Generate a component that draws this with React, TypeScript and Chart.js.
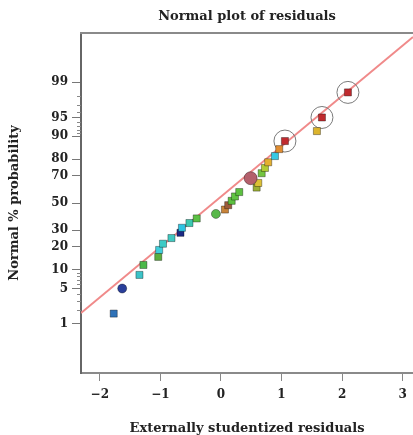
import React, { useEffect, useRef } from 'react';
import { Chart, registerables, LinearScale } from 'chart.js';

// ---- data ----
const residuals = [
  -1.77, -1.63, -1.345, -1.28, -1.035, -1.02, -0.957, -0.817, -0.668, -0.644,
  -0.52, -0.40, -0.083, 0.066, 0.12, 0.177, 0.231, 0.302, 0.589, 0.616,
  0.49, 0.672, 0.726, 0.78, 0.891, 0.962, 1.056, 1.584, 1.667, 2.096,
];
const probabilities = [
  1.67, 5, 8.33, 11.67, 15, 18.33, 21.67, 25, 28.33, 31.67,
  35, 38.33, 41.67, 45, 48.33, 51.67, 55, 58.33, 61.67, 65,
  68.33, 71.67, 75, 78.33, 81.67, 85, 88.33, 91.67, 95, 98.33,
];
const circledRuns = [26, 28, 29];
const refLineX = [-2.31, 3.17];
const refLineP = [1.72, 99.93];
const yTickLabels = [1, 5, 10, 20, 30, 50, 70, 80, 90, 95, 99];
const yMinorTicks = [2, 3, 4, 6, 7, 8, 9, 91, 92, 93, 94, 96, 97, 98];
const xTicks = [-2, -1, 0, 1, 2, 3];

// ---- styles ----
const pointColors = [
  '#2f72b8', '#2a3f9a', '#3cc3c8', '#4cb84a', '#5aad3c', '#3fcfdc', '#3ccbc6', '#40c8c0', '#1c2a84', '#2ec4e2',
  '#3cc8b0', '#5cc044', '#58b84a', '#c8843a', '#9c5c3c', '#5cc040', '#60c444', '#5cc040', '#9cb034', '#dcc034',
  '#b4606c', '#74c440', '#b4cc34', '#e4b030', '#38c8e4', '#e08c30', '#c02a2e', '#dcb42c', '#c02a2e', '#c02a2e',
];
const pointShapes = residuals.map((_, i) => (i === 1 || i === 12 || i === 20 ? 'circle' : 'rect'));
const pointSizes = residuals.map((_, i) => (i === 20 ? 6.5 : i === 1 || i === 12 ? 4.5 : 5));

const SERIF = "'DejaVu Serif', 'Liberation Serif', serif";

function probit(p: number): number {
  const a = [-3.969683028665376e1, 2.209460984245205e2, -2.759285104469687e2, 1.38357751867269e2, -3.066479806614716e1, 2.506628277459239];
  const b = [-5.447609879822406e1, 1.615858368580409e2, -1.556989798598866e2, 6.680131188771972e1, -1.328068155288572e1];
  const c = [-7.784894002430293e-3, -3.223964580411365e-1, -2.400758277161838, -2.549732539343734, 4.374664141464968, 2.938163982698783];
  const d = [7.784695709041462e-3, 3.224671290700398e-1, 2.445134137142996, 3.754408661907416];
  const plow = 0.02425;
  if (p <= 0) return -Infinity;
  if (p >= 1) return Infinity;
  if (p < plow) {
    const q = Math.sqrt(-2 * Math.log(p));
    return (((((c[0] * q + c[1]) * q + c[2]) * q + c[3]) * q + c[4]) * q + c[5]) / ((((d[0] * q + d[1]) * q + d[2]) * q + d[3]) * q + 1);
  }
  if (p <= 1 - plow) {
    const q = p - 0.5;
    const r = q * q;
    return ((((((a[0] * r + a[1]) * r + a[2]) * r + a[3]) * r + a[4]) * r + a[5]) * q) / (((((b[0] * r + b[1]) * r + b[2]) * r + b[3]) * r + b[4]) * r + 1);
  }
  const q = Math.sqrt(-2 * Math.log(1 - p));
  return -(((((c[0] * q + c[1]) * q + c[2]) * q + c[3]) * q + c[4]) * q + c[5]) / ((((d[0] * q + d[1]) * q + d[2]) * q + d[3]) * q + 1);
}

function normCdf(z: number): number {
  const t = 1 / (1 + 0.3275911 * Math.abs(z) / Math.SQRT2);
  const y = 1 - (((((1.061405429 * t - 1.453152027) * t) + 1.421413741) * t - 0.284496736) * t + 0.254829592) * t * Math.exp(-(z * z) / 2);
  return z >= 0 ? 0.5 * (1 + y) : 0.5 * (1 - y);
}

class ProbitScale extends (LinearScale as any) {
  static id = 'probit';
  static defaults = (LinearScale as any).defaults;
  _zmin = 0;
  _zmax = 1;
  determineDataLimits() {
    (this as any).min = (this as any).options.min;
    (this as any).max = (this as any).options.max;
  }
  buildTicks() {
    return yTickLabels.map((v) => ({ value: v }));
  }
  configure() {
    super.configure();
    this._zmin = probit((this as any).min / 100);
    this._zmax = probit((this as any).max / 100);
  }
  getPixelForValue(value: number) {
    if (value === null || value === undefined || isNaN(value)) return NaN;
    const z = probit(value / 100);
    return (this as any).getPixelForDecimal((z - this._zmin) / (this._zmax - this._zmin));
  }
  getValueForPixel(pixel: number) {
    const dec = (this as any).getDecimalForPixel(pixel);
    return normCdf(this._zmin + dec * (this._zmax - this._zmin)) * 100;
  }
}

Chart.register(...registerables, ProbitScale as any);

const framePlugin = {
  id: 'frame',
  afterDraw(chart: any) {
    const { ctx, chartArea, scales } = chart;
    const { left, top, right } = chartArea;
    ctx.save();
    ctx.strokeStyle = '#8a8a8a';
    ctx.lineWidth = 2;
    ctx.beginPath();
    ctx.moveTo(left - 1, top);
    ctx.lineTo(right, top);
    ctx.stroke();
    ctx.strokeStyle = '#888';
    ctx.lineWidth = 1;
    ctx.beginPath();
    yMinorTicks.forEach((v) => {
      const py = Math.round(scales.y.getPixelForValue(v)) + 0.5;
      ctx.moveTo(left - 4, py);
      ctx.lineTo(left, py);
    });
    ctx.stroke();
    ctx.restore();
  },
};

export default function App() {
  const ref = useRef<HTMLCanvasElement>(null);
  useEffect(() => {
    document.body.style.margin = '0';
    const canvas = ref.current!;
    const chart = new Chart(canvas, {
      type: 'scatter',
      data: {
        datasets: [
          {
            label: 'Residuals',
            data: residuals.map((x, i) => ({ x, y: probabilities[i] })),
            pointStyle: pointShapes as any,
            pointRadius: pointSizes,
            backgroundColor: pointColors,
            borderColor: 'rgba(0,0,0,0.35)',
            borderWidth: 1,
          },
          {
            label: 'Flagged',
            data: circledRuns.map((i) => ({ x: residuals[i], y: probabilities[i] })),
            pointStyle: 'circle',
            pointRadius: 11,
            backgroundColor: 'rgba(0,0,0,0)',
            borderColor: '#7a7a7a',
            borderWidth: 1,
          },
          {
            label: 'Normal line',
            type: 'line',
            data: refLineX.map((x, i) => ({ x, y: refLineP[i] })),
            borderColor: '#f08a8a',
            borderWidth: 2,
            pointRadius: 0,
            showLine: true,
          } as any,
        ],
      },
      options: {
        responsive: false,
        animation: false,
        devicePixelRatio: 1,
        layout: { padding: 0, autoPadding: false },
        events: [],
        plugins: {
          legend: { display: false },
          tooltip: { enabled: false },
          title: {
            display: true,
            text: 'Normal plot of residuals',
            fullSize: false,
            color: '#222',
            font: { family: SERIF, size: 13, weight: 'bold', lineHeight: 1.2 },
            padding: { top: 9, bottom: 8.4 },
          },
        },
        scales: {
          x: {
            type: 'linear',
            min: -2.31,
            max: 3.17,
            afterBuildTicks: (s: any) => {
              s.ticks = xTicks.map((v) => ({ value: v }));
            },
            afterFit: (s: any) => {
              s.height = 62;
              s.paddingLeft = 0;
              s.paddingRight = 0;
            },
            ticks: {
              color: '#222',
              padding: 7,
              maxRotation: 0,
              font: { family: SERIF, size: 12, weight: 'bold' },
              callback: (v: any) => (v < 0 ? '\u2212' + Math.abs(v) : String(v)),
            },
            grid: { display: true, drawOnChartArea: false, drawTicks: true, tickLength: 8, color: '#888', lineWidth: 1 },
            border: { display: true, color: '#8a8a8a', width: 2 },
            title: {
              display: true,
              text: 'Externally studentized residuals',
              color: '#222',
              font: { family: SERIF, size: 13, weight: 'bold', lineHeight: 1 },
              padding: { top: 0, bottom: 0 },
            },
          },
          y: {
            type: 'probit' as any,
            min: 0.0538,
            max: 99.9462,
            afterFit: (s: any) => {
              s.width = 81;
            },
            ticks: {
              color: '#222',
              padding: 4,
              autoSkip: false,
              font: { family: SERIF, size: 12, weight: 'bold' },
              callback: (v: any) => String(v),
            },
            grid: { display: true, drawOnChartArea: false, drawTicks: true, tickLength: 9, color: '#777', lineWidth: 1 },
            border: { display: true, color: '#666', width: 2 },
            title: {
              display: true,
              text: 'Normal % probability',
              color: '#222',
              font: { family: SERIF, size: 13, weight: 'bold', lineHeight: 1.2 },
              padding: { top: 7, bottom: 0 },
            },
          } as any,
        },
      },
      plugins: [framePlugin],
    });
    return () => chart.destroy();
  }, []);
  return (
    <div style={{ width: 413, height: 435, overflow: 'hidden' }}>
      <canvas ref={ref} width={413} height={435} style={{ display: 'block', width: 413, height: 435 }} />
    </div>
  );
}
